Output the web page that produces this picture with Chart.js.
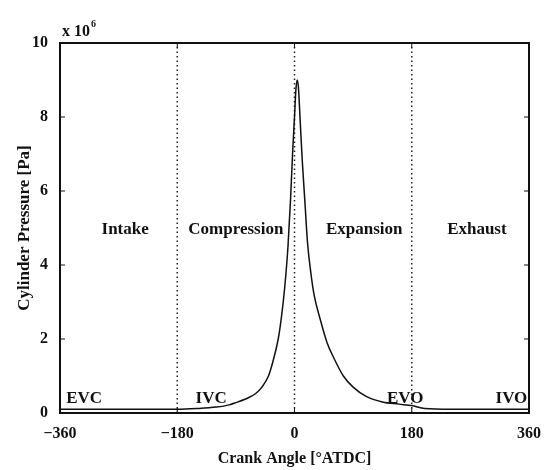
<!DOCTYPE html>
<html>
<head>
<meta charset="utf-8">
<script src="https://cdn.jsdelivr.net/npm/chart.js@4.4.0/dist/chart.umd.min.js"></script>
<style>
  html, body { margin: 0; padding: 0; background: #fff; }
  #wrap { width: 547px; height: 470px; }
</style>
</head>
<body>
<div id="wrap"><canvas id="pressureChart"></canvas></div>
<script>
// Cylinder pressure trace vs crank angle (values in 10^6 Pa)
const crankAngles = [-360, -300, -240, -200, -180, -150, -120, -100, -90, -70, -60, -50, -40, -33, -25, -20, -15, -10, -6, -3, 0, 2, 4, 6, 9, 12, 16, 20, 25, 30, 40, 50, 60, 75, 90, 110, 135, 160, 180, 200, 240, 300, 360];
const pressure = [0.1, 0.1, 0.1, 0.1, 0.1, 0.12, 0.16, 0.22, 0.28, 0.42, 0.52, 0.7, 1.0, 1.4, 2.0, 2.6, 3.4, 4.5, 5.8, 7.0, 8.0, 8.7, 9.0, 8.8, 7.8, 6.8, 5.7, 4.6, 3.8, 3.2, 2.5, 1.9, 1.5, 1.0, 0.7, 0.45, 0.3, 0.24, 0.2, 0.12, 0.1, 0.1, 0.1];

const xTicks = [-360, -180, 0, 180, 360];
const yTicks = [0, 2, 4, 6, 8, 10];

// stroke boundaries (dotted lines)
const boundaryAngles = [-180, 0, 180];

// stroke names and valve events
const phaseNames = ["Intake", "Compression", "Expansion", "Exhaust"];
const phaseAngles = [-260, -90, 107, 280];
const phaseLevel = 4.95;
const eventNames = ["EVC", "IVC", "EVO", "IVO"];
const eventAngles = [-323, -128, 170, 333];
const eventLevel = 0.4;

const serif = "'Liberation Serif', 'DejaVu Serif', serif";

const datasets = [{
  label: "Pressure",
  data: crankAngles.map((a, i) => ({ x: a, y: pressure[i] })),
  borderColor: "#111",
  borderWidth: 1.5,
  pointRadius: 0,
  fill: false,
  cubicInterpolationMode: "monotone",
}];
boundaryAngles.forEach(a => {
  datasets.push({
    label: "boundary " + a,
    data: [{ x: a, y: 0 }, { x: a, y: 10 }],
    borderColor: "#222",
    borderWidth: 1.5,
    borderDash: [1.5, 3],
    pointRadius: 0,
    fill: false,
  });
});

const textPlugin = {
  id: "textPlugin",
  afterDatasetsDraw(chart) {
    const { ctx, chartArea, scales } = chart;
    const xs = scales.x, ys = scales.y;
    ctx.save();
    // frame
    ctx.strokeStyle = "#111";
    ctx.lineWidth = 2;
    ctx.strokeRect(chartArea.left, chartArea.top, chartArea.right - chartArea.left, chartArea.bottom - chartArea.top);
    // inner ticks
    ctx.lineWidth = 1;
    xTicks.forEach(v => {
      const px = xs.getPixelForValue(v);
      ctx.beginPath();
      ctx.moveTo(px, chartArea.bottom); ctx.lineTo(px, chartArea.bottom - 5);
      ctx.moveTo(px, chartArea.top); ctx.lineTo(px, chartArea.top + 5);
      ctx.stroke();
    });
    yTicks.forEach(v => {
      const py = ys.getPixelForValue(v);
      ctx.beginPath();
      ctx.moveTo(chartArea.left, py); ctx.lineTo(chartArea.left + 5, py);
      ctx.moveTo(chartArea.right, py); ctx.lineTo(chartArea.right - 5, py);
      ctx.stroke();
    });
    ctx.fillStyle = "#111";
    ctx.font = "bold 17px " + serif;
    ctx.textAlign = "center";
    ctx.textBaseline = "middle";
    phaseNames.forEach((t, i) => {
      ctx.fillText(t, xs.getPixelForValue(phaseAngles[i]), ys.getPixelForValue(phaseLevel));
    });
    eventNames.forEach((t, i) => {
      ctx.fillText(t, xs.getPixelForValue(eventAngles[i]), ys.getPixelForValue(eventLevel));
    });
    // exponent label
    ctx.textAlign = "left";
    ctx.textBaseline = "alphabetic";
    ctx.font = "bold 16px " + serif;
    ctx.fillText("x 10", chartArea.left + 2, chartArea.top - 7);
    const w = ctx.measureText("x 10").width;
    ctx.font = "bold 10px " + serif;
    ctx.fillText("6", chartArea.left + 3 + w, chartArea.top - 16);
    ctx.restore();
  }
};

new Chart(document.getElementById("pressureChart"), {
  type: "line",
  data: { datasets },
  options: {
    responsive: true,
    maintainAspectRatio: false,
    animation: false,
    layout: { padding: { left: 14, right: 18, top: 43, bottom: 0 } },
    plugins: {
      legend: { display: false },
      tooltip: { enabled: false },
    },
    scales: {
      x: {
        type: "linear",
        min: -360,
        max: 360,
        afterBuildTicks: s => { s.ticks = xTicks.map(v => ({ value: v })); },
        afterFit: s => { s.height = 57; },
        grid: { display: false },
        border: { display: false },
        ticks: {
          color: "#111",
          font: { family: serif, size: 16, weight: "bold" },
          padding: 3,
          maxRotation: 0,
          callback: v => v < 0 ? "\u2212" + Math.abs(v) : String(v),
        },
        title: {
          display: true,
          text: "Crank Angle [\u00b0ATDC]",
          color: "#111",
          font: { family: serif, size: 16, weight: "bold" },
          padding: { top: 0, bottom: 2 },
        },
      },
      y: {
        min: 0,
        max: 10,
        afterBuildTicks: s => { s.ticks = yTicks.map(v => ({ value: v })); },
        afterFit: s => { s.width = 46; },
        grid: { display: false },
        border: { display: false },
        ticks: {
          color: "#111",
          font: { family: serif, size: 16, weight: "bold" },
          padding: 4,
        },
        title: {
          display: true,
          text: "Cylinder Pressure [Pa]",
          color: "#111",
          font: { family: serif, size: 17, weight: "bold" },
          padding: { top: 0, bottom: 0 },
        },
      },
    },
  },
  plugins: [textPlugin],
});
</script>
</body>
</html>
